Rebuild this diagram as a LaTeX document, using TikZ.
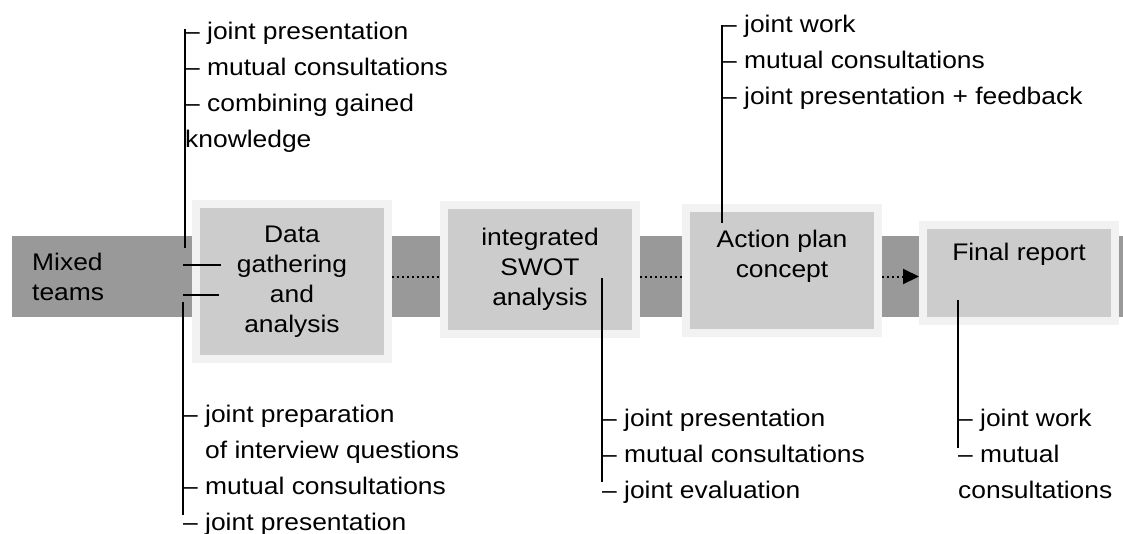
\documentclass[tikz,border=0pt]{standalone}
\usepackage{fontspec}
\setmainfont[FakeStretch=1.1]{Liberation Sans}
\usetikzlibrary{arrows.meta}
\definecolor{bandgray}{gray}{0.6}
\definecolor{boxgray}{gray}{0.8}
\definecolor{halogray}{gray}{0.95}
\tikzset{
  stage/.style={fill=boxgray, draw=halogray, line width=8pt, align=center,
    inner sep=0pt, minimum width=192pt, font=\fontsize{24}{30}\selectfont},
  bandtext/.style={anchor=west, align=left, inner sep=0pt, font=\fontsize{24}{30}\selectfont},
  notes/.style={anchor=north west, align=left, inner sep=0pt, font=\fontsize{24}{36}\selectfont},
  tie/.style={line width=2pt},
  flowdots/.style={line width=2pt, dash pattern=on 2pt off 3pt}
}

\begin{document}
\begin{tikzpicture}[x=1pt, y=-1pt]
  \useasboundingbox (0,0) rectangle (1123,533);
  \fill[bandgray] (12,236) rectangle (1123,317);

  \node[bandtext] (teams) at (32,276.5) {Mixed\\teams};
  \node[stage, minimum height=155pt] (data) at (292,281.5) {Data\\gathering\\and\\analysis};
  \node[stage, minimum height=129pt] (swot) at (540,269.5) {integrated\\SWOT\\analysis};
  \node[stage, minimum height=125pt, text depth=34pt] (action) at (782,270.5) {Action plan\\concept};
  \node[stage, minimum height=96pt, text depth=43pt] (final) at (1019,273) {Final report};

  \draw[flowdots] (data.east |- teams) -- (swot.west |- teams);
  \draw[flowdots] (swot.east |- teams) -- (action.west |- teams);
  \draw[flowdots, -{Triangle[length=16pt, width=15pt]}] (action.east |- teams) -- (final.west |- teams);

  \node[notes] (tl) at (185,22) {-- joint presentation\\-- mutual consultations\\-- combining gained\\knowledge};
  \node[notes] (bl) at (183,405) {-- joint preparation\\\phantom{-- }of interview questions\\-- mutual consultations\\-- joint presentation};
  \node[notes] (sn) at (602,409) {-- joint presentation\\-- mutual consultations\\-- joint evaluation};
  \node[notes] (an) at (722,15) {-- joint work\\-- mutual consultations\\-- joint presentation + feedback};
  \node[notes] (fn) at (958,409) {-- joint work\\-- mutual\\consultations};

  \coordinate (tlfoot) at (185,248);
  \coordinate (blhead) at (183,302);
  \coordinate (swotlink) at (602,278);
  \coordinate (actionlink) at (722,223);
  \coordinate (finallink) at (958,300);

  \draw[tie] (tl.north west) ++(0,7) -- (tlfoot);
  \draw[tie] (blhead) -- ([yshift=-110pt]bl.north west);
  \draw[tie] (swotlink) -- ([yshift=-73pt]sn.north west);
  \draw[tie] (an.north west) ++(0,10) -- (actionlink);
  \draw[tie] (finallink) -- ([yshift=-39pt]fn.north west);
  \foreach \y/\len in {265/38, 295/36}
    \draw[tie] (183,\y) -- ++(\len,0);
\end{tikzpicture}
\end{document}
